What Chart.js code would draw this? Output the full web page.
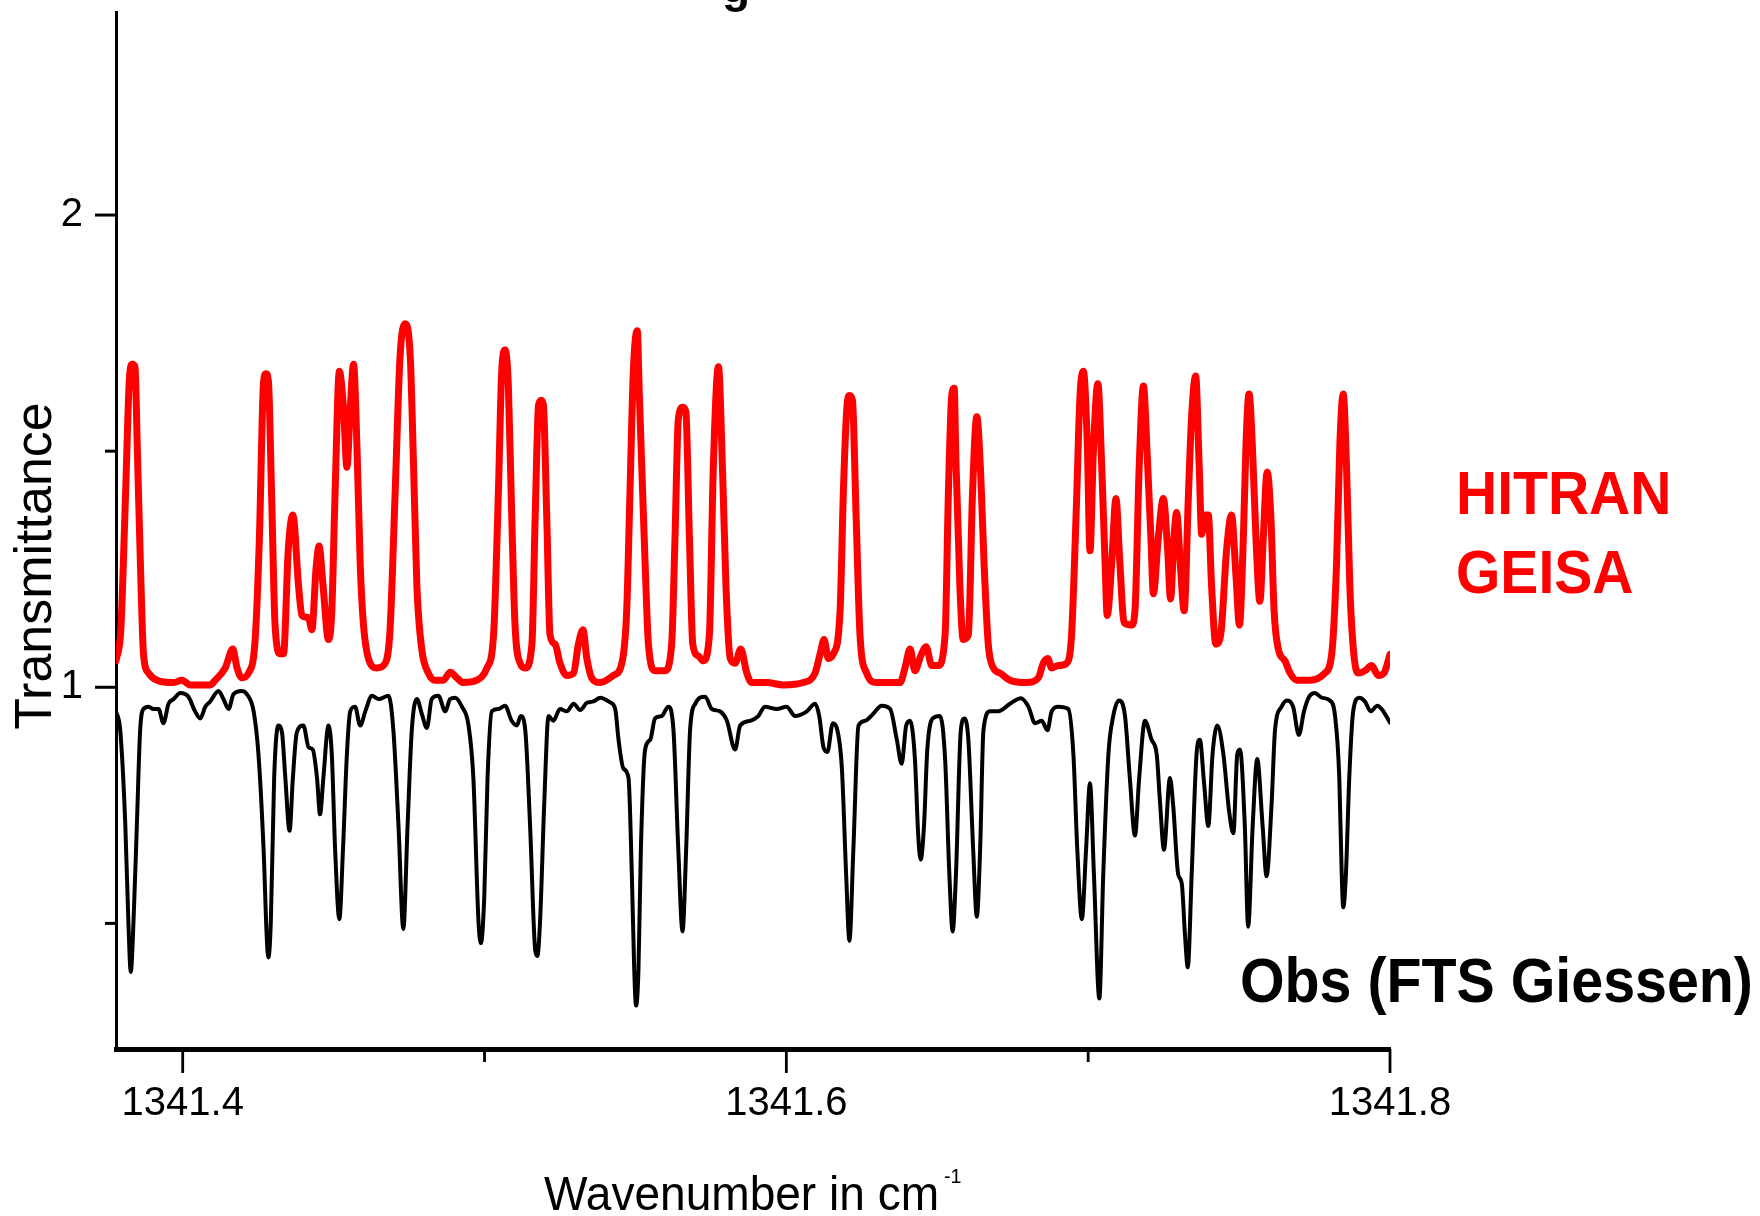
<!DOCTYPE html>
<html>
<head>
<meta charset="utf-8">
<script src="https://cdn.jsdelivr.net/npm/chart.js@4.4.1/dist/chart.umd.min.js"></script>
<style>
  html, body { margin: 0; padding: 0; background: #fff; }
  #wrap { width: 1760px; height: 1216px; }
</style>
</head>
<body>
<div id="wrap"><canvas id="spectre" width="1760" height="1216"></canvas></div>
<script>
// Spectre simulé (HITRAN / GEISA), décalé vers le haut
const hitranX = [
  1341.3779,1341.3795,1341.3810,1341.3824,1341.3833,1341.3842,1341.3850,1341.3862,1341.3870,
  1341.3887,1341.3915,1341.3970,1341.3997,1341.4025,1341.4091,1341.4108,1341.4141,1341.4166,1341.4180,
  1341.4196,1341.4218,1341.4240,1341.4254,1341.4268,1341.4276,1341.4284,1341.4295,1341.4306,
  1341.4323,1341.4334,1341.4350,1341.4365,1341.4384,1341.4395,1341.4417,1341.4428,1341.4442,1341.4452,
  1341.4464,1341.4483,1341.4494,1341.4505,1341.4519,1341.4533,1341.4544,1341.4555,1341.4566,1341.4577,
  1341.4588,1341.4599,1341.4621,1341.4643,1341.4671,1341.4687,1341.4704,1341.4720,1341.4737,1341.4754,
  1341.4765,1341.4776,1341.4792,1341.4814,1341.4836,1341.4864,1341.4886,1341.4908,1341.4930,1341.4975,
  1341.5008,1341.5030,1341.5046,1341.5057,1341.5068,1341.5079,1341.5090,1341.5101,1341.5118,1341.5135,
  1341.5157,1341.5168,1341.5179,1341.5188,1341.5195,1341.5206,1341.5217,1341.5234,1341.5250,
  1341.5273,1341.5295,1341.5311,1341.5326,1341.5339,1341.5355,1341.5383,1341.5427,1341.5455,1341.5471,
  1341.5482,1341.5493,1341.5506,1341.5513,1341.5521,1341.5532,1341.5543,1341.5565,1341.5598,1341.5620,
  1341.5631,1341.5642,1341.5657,1341.5667,1341.5679,1341.5690,1341.5709,1341.5725,1341.5745,
  1341.5758,1341.5775,1341.5789,1341.5800,1341.5814,1341.5830,1341.5849,1341.5869,1341.5885,
  1341.5935,1341.5990,1341.6056,1341.6095,1341.6112,1341.6125,1341.6139,1341.6156,1341.6178,1341.6189,
  1341.6200,1341.6209,1341.6219,1341.6231,1341.6244,1341.6266,1341.6299,1341.6377,1341.6393,
  1341.6410,1341.6426,1341.6445,1341.6463,1341.6482,1341.6503,1341.6526,1341.6537,1341.6548,1341.6556,
  1341.6562,1341.6575,1341.6586,1341.6603,1341.6617,1341.6631,1341.6644,1341.6655,1341.6669,
  1341.6686,1341.6708,1341.6741,1341.6796,1341.6835,1341.6851,1341.6866,1341.6879,1341.6901,1341.6929,
  1341.6945,1341.6960,1341.6973,1341.6984,1341.6997,1341.7006,1341.7017,1341.7032,1341.7045,1341.7056,
  1341.7063,1341.7078,1341.7092,1341.7105,1341.7119,1341.7144,1341.7155,1341.7169,1341.7183,1341.7196,
  1341.7208,1341.7216,1341.7232,1341.7249,1341.7263,1341.7273,1341.7284,1341.7293,1341.7306,1341.7318,
  1341.7332,1341.7343,1341.7356,1341.7368,1341.7376,1341.7387,1341.7398,1341.7409,1341.7423,1341.7439,
  1341.7459,1341.7475,1341.7490,1341.7501,1341.7514,1341.7523,1341.7533,1341.7545,1341.7556,1341.7569,
  1341.7580,1341.7593,1341.7605,1341.7616,1341.7630,1341.7652,1341.7669,1341.7691,1341.7735,1341.7784,
  1341.7807,1341.7823,1341.7834,1341.7845,1341.7856,1341.7867,1341.7880,1341.7895,1341.7917,1341.7939,
  1341.7961,1341.7980,1341.8000
]
const hitranY = [
  1.056,1.122,1.395,1.659,1.684,1.679,1.496,1.213,1.071,
  1.030,1.015,1.010,1.015,1.005,1.005,1.015,1.041,1.081,1.041,
  1.020,1.030,1.101,1.314,1.648,1.664,1.648,1.395,1.132,
  1.071,1.071,1.294,1.365,1.213,1.152,1.147,1.122,1.253,1.299,
  1.223,1.101,1.162,1.415,1.669,1.588,1.466,1.588,1.684,1.517,
  1.263,1.132,1.051,1.041,1.051,1.122,1.415,1.699,1.770,1.699,
  1.466,1.213,1.081,1.030,1.015,1.015,1.032,1.020,1.010,1.015,
  1.041,1.111,1.415,1.669,1.714,1.638,1.365,1.132,1.051,1.041,
  1.091,1.365,1.598,1.608,1.598,1.365,1.111,1.091,1.051,
  1.025,1.030,1.091,1.122,1.061,1.020,1.010,1.025,1.051,1.162,
  1.415,1.669,1.755,1.618,1.466,1.263,1.091,1.035,1.035,1.091,
  1.314,1.567,1.593,1.583,1.314,1.091,1.066,1.056,1.111,
  1.466,1.679,1.450,1.213,1.061,1.051,1.081,1.030,1.010,
  1.010,1.005,1.010,1.030,1.071,1.101,1.061,1.071,1.162,1.415,
  1.588,1.618,1.608,1.365,1.111,1.030,1.010,1.010,1.041,
  1.081,1.035,1.066,1.086,1.046,1.046,1.111,1.415,1.618,1.633,
  1.476,1.213,1.101,1.111,1.415,1.573,1.450,1.263,1.091,
  1.041,1.030,1.015,1.010,1.020,1.051,1.061,1.041,1.046,1.051,
  1.111,1.365,1.618,1.669,1.517,1.289,1.496,1.643,1.466,1.263,
  1.152,1.263,1.400,1.263,1.137,1.132,1.162,1.466,1.638,1.486,
  1.314,1.198,1.314,1.400,1.294,1.187,1.314,1.370,1.253,1.162,
  1.405,1.577,1.659,1.466,1.324,1.365,1.365,1.213,1.091,1.111,
  1.294,1.365,1.233,1.132,1.314,1.517,1.621,1.496,1.314,1.182,
  1.314,1.456,1.365,1.162,1.081,1.056,1.030,1.015,1.015,1.030,
  1.071,1.263,1.517,1.621,1.466,1.213,1.071,1.030,1.035,1.046,
  1.025,1.030,1.070
]

// Spectre observé (FTS Giessen)
const obsX = [
  1341.3779,1341.3793,1341.3810,1341.3820,1341.3828,1341.3837,1341.3848,1341.3859,1341.3870,1341.3887,
  1341.3903,1341.3920,1341.3936,1341.3953,1341.3970,1341.3992,1341.4019,1341.4041,1341.4058,1341.4075,
  1341.4091,1341.4119,1341.4135,1341.4152,1341.4168,1341.4196,1341.4213,1341.4235,1341.4251,1341.4268,
  1341.4279,1341.4284,1341.4292,1341.4303,1341.4317,1341.4329,1341.4340,1341.4354,1341.4365,1341.4378,
  1341.4400,1341.4417,1341.4431,1341.4445,1341.4455,1341.4466,1341.4483,1341.4494,1341.4505,1341.4519,
  1341.4531,1341.4544,1341.4555,1341.4571,1341.4588,1341.4605,1341.4627,1341.4649,1341.4682,1341.4698,
  1341.4715,1341.4731,1341.4745,1341.4759,1341.4776,1341.4792,1341.4809,1341.4825,1341.4847,1341.4870,
  1341.4886,1341.4903,1341.4925,1341.4947,1341.4963,1341.4980,1341.4988,1341.4999,1341.5010,1341.5024,
  1341.5046,1341.5068,1341.5090,1341.5107,1341.5120,1341.5135,1341.5151,1341.5168,1341.5175,1341.5184,
  1341.5198,1341.5212,1341.5228,1341.5250,1341.5273,1341.5295,1341.5317,1341.5339,1341.5361,1341.5383,
  1341.5416,1341.5433,1341.5444,1341.5460,1341.5477,1341.5488,1341.5496,1341.5502,1341.5510,1341.5518,
  1341.5532,1341.5549,1341.5565,1341.5587,1341.5609,1341.5626,1341.5642,1341.5656,1341.5668,1341.5681,
  1341.5698,1341.5731,1341.5753,1341.5780,1341.5803,1341.5830,1341.5847,1341.5880,1341.5907,1341.5929,
  1341.5968,1341.6001,1341.6029,1341.6068,1341.6095,1341.6109,1341.6123,1341.6136,1341.6154,1341.6167,
  1341.6184,1341.6198,1341.6209,1341.6222,1341.6239,1341.6261,1341.6288,1341.6316,1341.6344,1341.6366,
  1341.6382,1341.6397,1341.6410,1341.6426,1341.6437,1341.6445,1341.6456,1341.6467,1341.6485,1341.6509,
  1341.6526,1341.6540,1341.6551,1341.6562,1341.6578,1341.6590,1341.6603,1341.6619,1341.6631,1341.6642,
  1341.6653,1341.6675,1341.6702,1341.6741,1341.6777,1341.6802,1341.6824,1341.6846,1341.6865,1341.6879,
  1341.6901,1341.6934,1341.6951,1341.6964,1341.6979,1341.6993,1341.7006,1341.7019,1341.7037,1341.7050,
  1341.7067,1341.7083,1341.7102,1341.7122,1341.7138,1341.7155,1341.7169,1341.7188,1341.7210,1341.7227,
  1341.7238,1341.7251,1341.7271,1341.7282,1341.7298,1341.7310,1341.7321,1341.7330,1341.7343,1341.7359,
  1341.7370,1341.7384,1341.7398,1341.7412,1341.7428,1341.7448,1341.7467,1341.7481,1341.7494,1341.7503,
  1341.7519,1341.7530,1341.7545,1341.7560,1341.7578,1341.7591,1341.7608,1341.7619,1341.7641,1341.7658,
  1341.7679,1341.7698,1341.7715,1341.7732,1341.7751,1341.7774,1341.7801,1341.7818,1341.7832,1341.7840,
  1341.7845,1341.7854,1341.7865,1341.7878,1341.7898,1341.7917,1341.7936,1341.7958,1341.7976,1341.8000
]
const obsY = [
  0.949,0.909,0.706,0.504,0.397,0.504,0.706,0.909,0.954,0.959,
  0.954,0.954,0.924,0.965,0.975,0.988,0.980,0.949,0.934,0.959,
  0.970,0.992,0.975,0.954,0.985,0.992,0.985,0.949,0.858,0.656,
  0.463,0.428,0.504,0.808,0.919,0.904,0.808,0.696,0.808,0.904,
  0.919,0.873,0.868,0.808,0.731,0.808,0.919,0.858,0.656,0.509,
  0.656,0.858,0.949,0.959,0.919,0.949,0.982,0.975,0.982,0.909,
  0.706,0.488,0.706,0.909,0.975,0.944,0.914,0.975,0.982,0.949,
  0.975,0.978,0.959,0.919,0.808,0.504,0.458,0.554,0.808,0.949,
  0.954,0.961,0.929,0.919,0.939,0.909,0.706,0.443,0.431,0.504,
  0.757,0.939,0.929,0.954,0.949,0.965,0.952,0.967,0.970,0.978,
  0.968,0.954,0.889,0.828,0.808,0.605,0.402,0.326,0.402,0.656,
  0.868,0.889,0.934,0.939,0.959,0.909,0.656,0.483,0.656,0.909,
  0.965,0.980,0.954,0.949,0.929,0.868,0.919,0.929,0.939,0.959,
  0.954,0.959,0.939,0.949,0.965,0.939,0.873,0.863,0.924,0.914,
  0.828,0.605,0.463,0.656,0.919,0.929,0.944,0.961,0.954,0.889,
  0.838,0.919,0.929,0.848,0.686,0.635,0.706,0.868,0.934,0.939,
  0.848,0.605,0.483,0.605,0.909,0.934,0.889,0.656,0.514,0.656,
  0.909,0.949,0.949,0.965,0.977,0.959,0.924,0.929,0.909,0.949,
  0.959,0.954,0.858,0.656,0.509,0.656,0.797,0.605,0.341,0.605,
  0.858,0.939,0.972,0.939,0.808,0.686,0.808,0.929,0.889,0.858,
  0.757,0.656,0.808,0.747,0.605,0.585,0.473,0.407,0.605,0.858,
  0.889,0.797,0.706,0.858,0.919,0.858,0.737,0.691,0.858,0.868,
  0.706,0.493,0.706,0.848,0.706,0.600,0.757,0.909,0.959,0.972,
  0.959,0.899,0.949,0.980,0.988,0.978,0.972,0.939,0.808,0.605,
  0.534,0.605,0.808,0.949,0.978,0.970,0.949,0.961,0.951,0.925
]

// Graduations
const xTicks = [1341.4, 1341.5, 1341.6, 1341.7, 1341.8]
const xTickLabels = ['1341.4', '', '1341.6', '', '1341.8']
const yTicks = [0.5, 1, 1.5, 2]
const yTickLabels = ['', '1', '', '2']

if (hitranX.length !== hitranY.length || obsX.length !== obsY.length) {
  console.error('longueurs différentes', hitranX.length, hitranY.length, obsX.length, obsY.length)
}

const police = "'Liberation Sans', Arial, sans-serif"

// petits traits de graduation (majeurs plus longs que mineurs)
const traits = {
  id: 'traits',
  afterDraw(chart) {
    const ctx = chart.ctx
    const sx = chart.scales.x
    const sy = chart.scales.y
    ctx.save()
    ctx.strokeStyle = '#000'
    ctx.lineWidth = 3
    sy.ticks.forEach((t, i) => {
      const py = sy.getPixelForValue(t.value)
      const len = yTickLabels[i] ? 21 : 11
      ctx.beginPath()
      ctx.moveTo(sy.right - len, py)
      ctx.lineTo(sy.right, py)
      ctx.stroke()
    })
    ctx.lineWidth = 2.8
    sx.ticks.forEach((t, i) => {
      const px = sx.getPixelForValue(t.value)
      const len = xTickLabels[i] ? 24 : 13
      ctx.beginPath()
      ctx.moveTo(px, sx.top)
      ctx.lineTo(px, sx.top + len)
      ctx.stroke()
    })
    ctx.restore()
  }
}

// textes : titres d'axes, légendes dans le graphe
function texte(ctx, str, x, y, font, color, sx) {
  ctx.save()
  ctx.font = font
  ctx.fillStyle = color
  ctx.textBaseline = 'alphabetic'
  ctx.translate(x, y)
  ctx.scale(sx, 1)
  ctx.fillText(str, 0, 0)
  ctx.restore()
}

const annotations = {
  id: 'annotations',
  afterDraw(chart) {
    const ctx = chart.ctx
    // titre coupé en haut de l'image
    ctx.save()
    ctx.font = 'bold 46px ' + police
    ctx.fillStyle = '#000'
    ctx.textAlign = 'center'
    ctx.fillText('g', 736, 2)
    ctx.restore()

    // axe y
    ctx.save()
    ctx.font = '52px ' + police
    ctx.fillStyle = '#000'
    ctx.textAlign = 'center'
    ctx.translate(51, 566)
    ctx.rotate(-Math.PI / 2)
    ctx.fillText('Transmittance', 0, 0)
    ctx.restore()

    // axe x avec exposant
    ctx.save()
    ctx.font = '49px ' + police
    const w = ctx.measureText('Wavenumber in cm').width * 0.94
    ctx.restore()
    texte(ctx, 'Wavenumber in cm', 544, 1210, '49px ' + police, '#000', 0.94)
    texte(ctx, '-1', 544 + w + 5, 1183, '21px ' + police, '#000', 0.94)

    texte(ctx, 'HITRAN', 1456, 514, 'bold 62px ' + police, '#ff0000', 0.92)
    texte(ctx, 'GEISA', 1456, 593, 'bold 62px ' + police, '#ff0000', 0.92)
    texte(ctx, 'Obs (FTS Giessen)', 1240, 1002, 'bold 63px ' + police, '#000', 0.91)
  }
}

new Chart(
  document.getElementById('spectre'),
  {
    type: 'line',
    data: {
      datasets: [
        {
          label: 'HITRAN GEISA',
          data: hitranX.map((x, i) => ({x: x, y: hitranY[i]})),
          borderColor: '#ff0000',
          borderWidth: 7,
          pointRadius: 0,
          cubicInterpolationMode: 'monotone',
          borderJoinStyle: 'round',
          borderCapStyle: 'round'
        },
        {
          label: 'Obs (FTS Giessen)',
          data: obsX.map((x, i) => ({x: x, y: obsY[i]})),
          borderColor: '#000000',
          borderWidth: 4,
          pointRadius: 0,
          cubicInterpolationMode: 'monotone',
          borderJoinStyle: 'round',
          borderCapStyle: 'round'
        }
      ]
    },
    options: {
      responsive: false,
      animation: false,
      layout: {
        padding: {top: 12, right: 370, bottom: 0, left: 0}
      },
      plugins: {
        legend: {display: false},
        tooltip: {enabled: false},
        title: {display: false}
      },
      scales: {
        x: {
          type: 'linear',
          min: 1341.3779,
          max: 1341.8,
          afterFit: (scale) => {
            scale.height = 167
            scale.paddingLeft = 0
            scale.paddingRight = 0
          },
          afterBuildTicks: (scale) => { scale.ticks = xTicks.map(v => ({value: v})) },
          grid: {display: false, drawTicks: false},
          border: {display: true, color: '#000', width: 5},
          ticks: {
            autoSkip: false,
            maxRotation: 0,
            padding: 31,
            color: '#000',
            font: {family: police, size: 40},
            callback: (v, i) => xTickLabels[i]
          }
        },
        y: {
          min: 0.234,
          max: 2.43,
          afterFit: (scale) => {
            scale.width = 116
            scale.paddingTop = 0
            scale.paddingBottom = 0
          },
          afterBuildTicks: (scale) => { scale.ticks = yTicks.map(v => ({value: v})) },
          grid: {display: false, drawTicks: false},
          border: {display: true, color: '#000', width: 3},
          ticks: {
            autoSkip: false,
            padding: 33,
            color: '#000',
            font: {family: police, size: 40},
            callback: (v, i) => yTickLabels[i]
          }
        }
      }
    },
    plugins: [traits, annotations]
  }
)
</script>
</body>
</html>
